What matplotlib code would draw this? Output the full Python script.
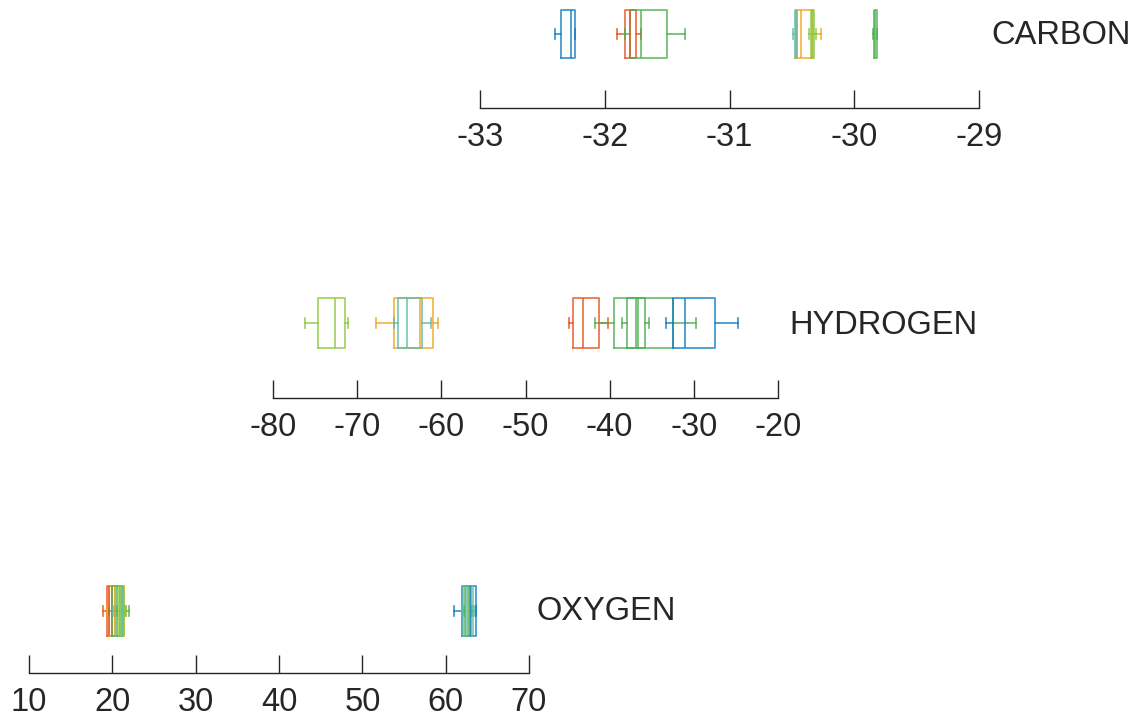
import matplotlib
matplotlib.use("Agg")
import matplotlib.pyplot as plt

plt.rcParams['font.family'] = ['Liberation Sans', 'DejaVu Sans']
plt.rcParams['axes.unicode_minus'] = False

BLUE = '#0F7DC2'
RED = '#E8501C'
GREEN = '#4CAF4F'
LIME = '#8BC83F'
ORANGE = '#F3A41C'
TEAL = '#5CBBAA'

# box stats per isotope: whisker low, q1, median, q3, whisker high
carbon_colors = [BLUE, RED, GREEN, TEAL, ORANGE, LIME, GREEN]
carbon_lo = [-32.40, -31.90, -31.84, -30.49, -30.46, -30.36, -29.85]
carbon_q1 = [-32.35, -31.84, -31.80, -30.475, -30.46, -30.35, -29.84]
carbon_med = [-32.27, -31.80, -31.71, -30.465, -30.43, -30.335, -29.83]
carbon_q3 = [-32.24, -31.75, -31.50, -30.455, -30.33, -30.32, -29.82]
carbon_hi = [-32.24, -31.71, -31.36, -30.455, -30.27, -30.31, -29.82]
carbon_ticks = [-33, -32, -31, -30, -29]

hydrogen_colors = [LIME, ORANGE, TEAL, RED, GREEN, GREEN, BLUE]
hydrogen_lo = [-76.2, -67.8, -65.6, -44.8, -41.7, -38.5, -33.3]
hydrogen_q1 = [-74.6, -65.6, -65.2, -44.3, -39.5, -38.0, -32.5]
hydrogen_med = [-72.6, -62.5, -64.1, -43.2, -36.6, -36.9, -31.0]
hydrogen_q3 = [-71.5, -61.0, -62.3, -41.3, -32.5, -35.8, -27.5]
hydrogen_hi = [-71.1, -60.4, -61.2, -40.2, -29.7, -35.3, -24.8]
hydrogen_ticks = [-80, -70, -60, -50, -40, -30, -20]

oxygen_colors = [RED, ORANGE, GREEN, TEAL, LIME, BLUE, GREEN, TEAL]
oxygen_lo = [18.9, 19.4, 19.6, 20.1, 20.6, 61.0, 62.2, 62.0]
oxygen_q1 = [19.3, 19.6, 19.9, 20.3, 20.8, 62.0, 62.3, 62.1]
oxygen_med = [19.6, 20.3, 20.6, 20.9, 21.0, 62.9, 62.7, 62.4]
oxygen_q3 = [20.0, 21.4, 21.2, 21.3, 21.4, 63.6, 63.0, 63.3]
oxygen_hi = [20.3, 21.6, 22.0, 21.5, 21.6, 63.6, 63.1, 63.4]
oxygen_ticks = [10, 20, 30, 40, 50, 60, 70]

W, H = 1136, 717
fig = plt.figure(figsize=(W / 100, H / 100), dpi=100)
AXIS_COLOR = '#262626'


def panel(px_left, px_right, px_axis, center, height, name, label_x, label_y,
          colors, lo, q1, med, q3, hi, ticks):
    ax = fig.add_axes([px_left / W, 1 - px_axis / H,
                       (px_right - px_left) / W, 108 / H])
    for c, a, b, m, d, e in zip(colors, lo, q1, med, q3, hi):
        st = [dict(whislo=a, q1=b, med=m, q3=d, whishi=e)]
        kw = dict(color=c, linewidth=1.2, alpha=0.85)
        ax.bxp(st, positions=[center], widths=height, orientation='horizontal',
               showfliers=False, capwidths=0.1,
               boxprops=kw, medianprops=kw, whiskerprops=kw, capprops=kw)
    ax.set_ylim(0, 1)
    ax.set_xlim(ticks[0], ticks[-1])
    ax.set_xticks(ticks)
    ax.set_xticklabels([str(t) for t in ticks])
    ax.set_yticks([])
    for s in ('left', 'right', 'top'):
        ax.spines[s].set_visible(False)
    ax.spines['bottom'].set_color(AXIS_COLOR)
    ax.spines['bottom'].set_linewidth(1.0)
    ax.tick_params(axis='x', direction='in', length=13, width=1.0,
                   colors=AXIS_COLOR, labelsize=23.5, pad=10)
    ax.patch.set_alpha(0)
    fig.text(label_x / W, 1 - label_y / H, name, fontsize=23.5,
             color=AXIS_COLOR, va='center', ha='left')
    return ax


panel(480, 979, 108, 0.685, 0.444, 'CARBON', 991, 35,
      carbon_colors, carbon_lo, carbon_q1, carbon_med, carbon_q3, carbon_hi,
      carbon_ticks)
panel(273, 778, 398, 0.694, 0.463, 'HYDROGEN', 789, 325,
      hydrogen_colors, hydrogen_lo, hydrogen_q1, hydrogen_med, hydrogen_q3,
      hydrogen_hi, hydrogen_ticks)
panel(29, 529, 673, 0.574, 0.463, 'OXYGEN', 536, 611,
      oxygen_colors, oxygen_lo, oxygen_q1, oxygen_med, oxygen_q3, oxygen_hi,
      oxygen_ticks)

fig.savefig('out.png', dpi=100, facecolor='white')
